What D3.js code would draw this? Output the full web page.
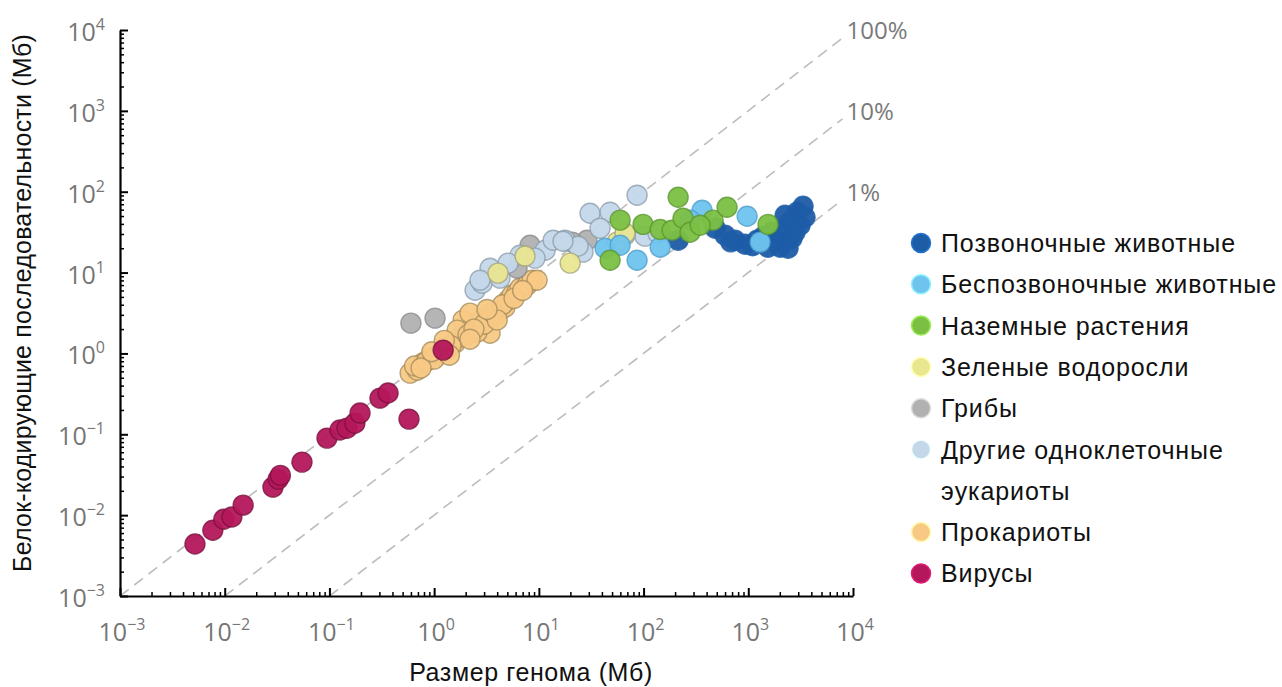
<!DOCTYPE html>
<html>
<head>
<meta charset="utf-8">
<script src="https://cdn.jsdelivr.net/npm/d3@7"></script>
<style>
  body { margin: 0; background: #fff; }
  svg { display: block; }
</style>
</head>
<body>
<svg id="chart" width="1282" height="687"></svg>
<script>
// [genome size (Mb), protein-coding sequence (Mb)]
const vertebrates = [[214, 25.1], [482, 35.4], [600, 29.0], [748, 25.1], [931, 22.4], [1213, 25.1],
  [1545, 20.6], [1803, 26.6], [2103, 33.4], [2507, 43.2], [2925, 55.8], [3337, 66.2], [3126, 38.5],
  [2620, 26.6], [2014, 20.6], [1687, 31.5], [2245, 51.2], [2799, 31.5], [3484, 48.4], [2399, 20.0],
  [680, 24.0], [1100, 21.5], [1400, 28.0]];
const invertebrates = [[42.9, 20.0], [86.7, 14.2], [144, 20.6], [362, 59.0], [975, 49.8],
  [1297, 23.8], [59.7, 21.8], [278, 44.5]];
const landPlants = [[47.9, 14.2], [59.7, 44.5], [98.9, 39.4], [144, 34.1], [187, 33.4], [214, 85.5],
  [238, 47.0], [278, 31.5], [461, 44.5], [627, 64.3], [1545, 39.4], [347, 38.5]];
const greenAlgae = [[4.07, 9.84], [7.38, 16.0], [19.9, 13.1], [55.8, 23.8], [66.5, 30.7]];
const fungi = [[0.60, 2.37], [1.02, 2.73], [8.24, 21.8], [28.8, 25.1], [6.19, 11.3], [20.8, 23.8]];
const otherEukaryotes = [[2.46, 6.05], [3.42, 11.3], [2.87, 7.39], [4.26, 8.53], [2.74, 8.05],
  [6.61, 16.4], [11.5, 18.9], [13.7, 25.1], [17.8, 25.1], [26.4, 17.9], [23.7, 21.2], [30.8, 54.2],
  [47.9, 55.8], [38.4, 35.4], [86.7, 90.6], [103, 28.2], [137, 30.7], [66.5, 29.0], [17.0, 24.4],
  [5.08, 13.1], [9.2, 15.1]];
const prokaryotes = [[0.59, 0.57], [0.69, 0.62], [0.78, 0.76], [0.91, 0.88], [1.09, 0.95],
  [1.33, 1.10], [1.58, 1.34], [1.77, 1.59], [1.97, 1.83], [2.35, 2.11], [2.74, 2.37], [2.93, 2.73],
  [3.42, 1.78], [2.57, 1.83], [3.82, 2.97], [4.26, 3.43], [4.75, 3.73], [5.08, 4.56], [5.55, 5.26],
  [6.19, 5.73], [6.61, 6.41], [7.71, 6.99], [8.61, 8.05], [9.61, 8.05], [1.89, 2.58], [2.20, 3.15],
  [1.66, 1.94], [0.65, 0.70], [0.85, 0.80], [1.2, 1.15], [1.45, 1.25], [2.1, 1.7], [3.0, 2.3],
  [3.6, 3.2], [4.5, 4.0], [1.0, 0.85], [0.75, 0.66], [2.4, 2.0], [5.8, 4.8], [7.0, 6.0],
  [1.4, 0.95], [2.2, 1.5], [4.0, 2.6], [0.95, 1.05], [1.25, 1.45], [3.2, 3.5]];
const viruses = [[0.0052, 0.0044], [0.0077, 0.0065], [0.0098, 0.0089], [0.0117, 0.0095],
  [0.015, 0.0133], [0.0289, 0.0222], [0.0324, 0.0279], [0.034, 0.031], [0.0547, 0.0453],
  [0.0948, 0.0897], [0.126, 0.113], [0.147, 0.119], [0.175, 0.137], [0.196, 0.183], [0.304, 0.28],
  [0.363, 0.324], [0.575, 0.154], [1.22, 1.1]];

const legendNames = ["Позвоночные животные", "Беспозвоночные животные", "Наземные растения",
  "Зеленые водоросли", "Грибы", ["Другие одноклеточные", "эукариоты"], "Прокариоты", "Вирусы"];
const decades = [-3, -2, -1, 0, 1, 2, 3, 4];
const percentLines = [1, 0.1, 0.01];
const percentLabels = ["100%", "10%", "1%"];

const groups = [
  { data: vertebrates, fill: "#1d5ca7", stroke: "#1d5ca7" },
  { data: invertebrates, fill: "#6fc4ee", stroke: "#4d9fcc" },
  { data: landPlants, fill: "#7bc043", stroke: "#5b9630" },
  { data: greenAlgae, fill: "#e9e690", stroke: "#a6a47a" },
  { data: fungi, fill: "#b1b1b1", stroke: "#8a8a8a" },
  { data: otherEukaryotes, fill: "#c4d8ea", stroke: "#8d9dab" },
  { data: prokaryotes, fill: "#f8c985", stroke: "#a88f5f" },
  { data: viruses, fill: "#b4175b", stroke: "#7c0f3e" }
];
groups.forEach((g, i) => g.name = legendNames[i]);
// drawing order (back to front)
const drawOrder = [0, 6, 4, 5, 3, 1, 2, 7];

const svg = d3.select("#chart");
const x = d3.scaleLog().domain([1e-3, 1e4]).range([120, 853]);
const y = d3.scaleLog().domain([1e-3, 1e4]).range([596, 30]);

const minorValues = [];
decades.slice(0, -1).forEach(d => {
  for (let k = 2; k <= 9; k++) minorValues.push(k * Math.pow(10, d));
});
const majorValues = decades.map(d => Math.pow(10, d));

// dashed percentage guides
const lineEnd = Math.pow(10, 3.9);
const guides = svg.append("g");
percentLines.forEach((p, i) => {
  const start = 1e-3 / p;
  guides.append("line")
    .attr("x1", x(start)).attr("y1", y(start * p))
    .attr("x2", x(lineEnd)).attr("y2", y(lineEnd * p))
    .attr("stroke", "#bdbdbd")
    .attr("stroke-width", 1.6)
    .attr("stroke-dasharray", "11,7");
  guides.append("text")
    .attr("x", x(lineEnd) + 4)
    .attr("y", y(lineEnd * p) + 1)
    .attr("font-family", "Open Sans, sans-serif")
    .attr("font-size", 24)
    .attr("fill", "#7a7a7a")
    .text(percentLabels[i]);
});

// axes
function axisLines(g, axisFn, scale) {
  g.call(axisFn(scale).tickValues(minorValues).tickSize(-4).tickFormat("").tickSizeOuter(0));
  g.call(sel => sel.selectAll(".tick line").attr("stroke-width", 1.5));
  const major = g.append("g").call(axisFn(scale).tickValues(majorValues).tickSize(-8).tickFormat("").tickSizeOuter(0));
  major.select(".domain").remove();
  major.selectAll(".tick line").attr("stroke-width", 2);
  g.select(".domain").attr("stroke-width", 2.2);
}

const xAxis = svg.append("g").attr("transform", `translate(0,${y(1e-3)})`);
axisLines(xAxis, d3.axisBottom, x);
const yAxis = svg.append("g").attr("transform", `translate(${x(1e-3)},0)`);
axisLines(yAxis, d3.axisLeft, y);

function powerLabel(sel, d) {
  sel.append("tspan").text("10");
  sel.append("tspan")
    .attr("dy", -11)
    .attr("font-size", 16)
    .text(String(d).replace("-", "\u2212"));
}

svg.append("g").selectAll("text")
  .data(decades)
  .join("text")
  .attr("x", d => x(Math.pow(10, d)) + 2)
  .attr("y", 641)
  .attr("text-anchor", "middle")
  .attr("font-family", "Open Sans, sans-serif")
  .attr("font-size", 25)
  .attr("fill", "#767676")
  .each(function (d) { powerLabel(d3.select(this), d); });

svg.append("g").selectAll("text")
  .data(decades)
  .join("text")
  .attr("x", 105)
  .attr("y", d => y(Math.pow(10, d)) + 11)
  .attr("text-anchor", "end")
  .attr("font-family", "Open Sans, sans-serif")
  .attr("font-size", 25)
  .attr("fill", "#767676")
  .each(function (d) { powerLabel(d3.select(this), d); });

// axis titles
svg.append("text")
  .attr("x", 531)
  .attr("y", 681)
  .attr("text-anchor", "middle")
  .attr("font-family", "Liberation Sans, Arial, sans-serif")
  .attr("font-size", 25)
  .attr("letter-spacing", 0.6)
  .attr("fill", "#111")
  .text("Размер генома (Мб)");

svg.append("text")
  .attr("transform", "translate(31,303) rotate(-90)")
  .attr("text-anchor", "middle")
  .attr("font-family", "Liberation Sans, Arial, sans-serif")
  .attr("font-size", 25)
  .attr("letter-spacing", 0.2)
  .attr("fill", "#111")
  .text("Белок-кодирующие последовательности (Мб)");

// points
const pts = svg.append("g");
drawOrder.forEach(i => {
  const g = groups[i];
  pts.append("g")
    .selectAll("circle")
    .data(g.data)
    .join("circle")
    .attr("cx", d => x(d[0]))
    .attr("cy", d => y(d[1]))
    .attr("r", 10)
    .attr("fill", g.fill)
    .attr("fill-opacity", 0.95)
    .attr("stroke", g.stroke)
    .attr("stroke-opacity", 0.8)
    .attr("stroke-width", 1.4);
});

// legend
const legend = svg.append("g").attr("transform", "translate(921,243)");
let row = 0;
groups.forEach(g => {
  const lines = Array.isArray(g.name) ? g.name : [g.name];
  const item = legend.append("g").attr("transform", `translate(0,${row * 41.3})`);
  item.append("circle")
    .attr("r", 9.5)
    .attr("fill", g.fill)
    .attr("stroke", d3.color(g.fill).brighter(0.6))
    .attr("stroke-width", 1.5);
  lines.forEach((t, j) => {
    item.append("text")
      .attr("x", 20)
      .attr("y", j * 41.3 + 9)
      .attr("font-family", "Liberation Sans, Arial, sans-serif")
      .attr("font-size", 25)
      .attr("letter-spacing", 0.9)
      .attr("fill", "#111")
      .text(t);
  });
  row += lines.length;
});
</script>
</body>
</html>
